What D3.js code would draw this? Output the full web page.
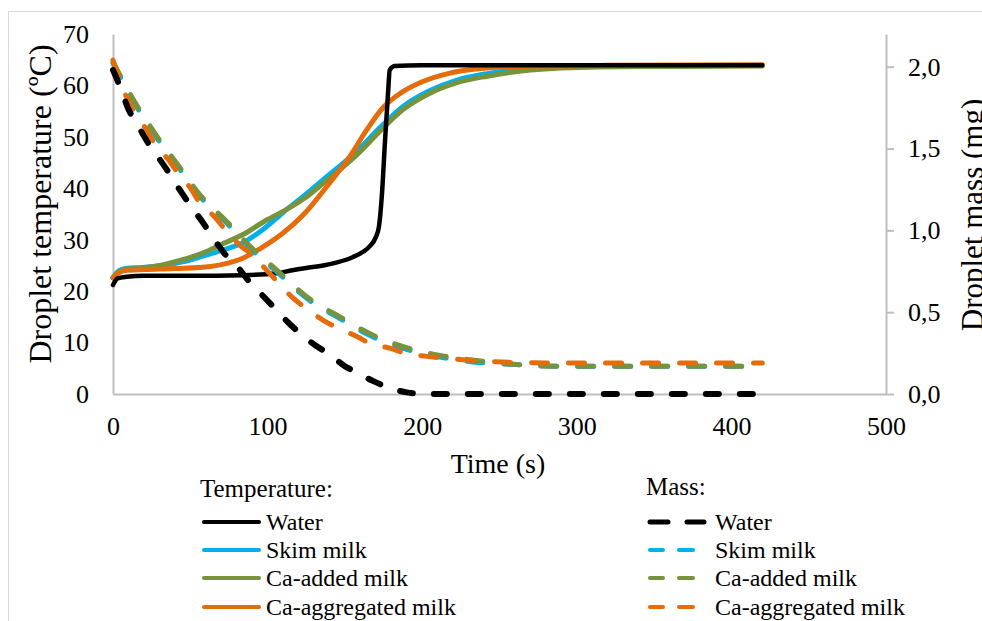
<!DOCTYPE html>
<html>
<head>
    <meta charset="utf-8">
    <title>Droplet temperature and mass</title>
    <script src="https://d3js.org/d3.v7.min.js"></script>
    <style>
        body { margin: 0; background: #fff; }
        svg { display: block; font-family: "Liberation Serif", "Times New Roman", serif; }
    </style>
</head>
<body>
    <div id="chart"></div>

    <script>
        // series names and colours
        var names = ["Water", "Skim milk", "Ca-added milk", "Ca-aggregated milk"];
        var colors = ["#000000", "#00b0f0", "#77933c", "#e46c0a"];

        // temperature (left axis, °C) - time (s) / value pairs
        var tWaterTemp = [0, 3, 9, 20, 50, 84, 106, 115, 125, 136, 145, 155, 162, 166, 170, 172, 174, 176, 178, 179, 182, 200, 300, 420];
        var waterTemp  = [21.2, 22.5, 22.8, 23.0, 23.0, 23.1, 23.5, 24.0, 24.5, 25.0, 25.6, 26.6, 27.7, 28.7, 30.5, 32.5, 39, 49.5, 59, 63, 63.8, 63.9, 63.9, 63.9];

        var tSkimTemp = [0, 4, 8, 19, 32, 45, 58, 71, 84, 97, 110, 125, 136, 158, 173, 188, 205, 222, 242, 270, 313, 360, 420];
        var skimTemp  = [22.6, 24.0, 24.4, 24.6, 25.0, 25.7, 26.8, 28.0, 29.4, 32.0, 35.3, 38.9, 41.7, 47.3, 51.9, 56.0, 59.0, 61.0, 62.3, 63.3, 63.7, 63.8, 63.9];

        var tAddedTemp = [0, 4, 8, 19, 32, 45, 58, 71, 84, 97, 110, 125, 136, 158, 173, 188, 205, 222, 242, 270, 313, 360, 420];
        var addedTemp  = [22.6, 23.8, 24.2, 24.5, 25.1, 26.1, 27.4, 29.2, 31.0, 33.4, 35.5, 38.3, 41.0, 46.6, 51.2, 55.4, 58.5, 60.5, 61.8, 63.0, 63.6, 63.7, 63.8];

        var tAggrTemp = [0, 4, 8, 20, 41, 63, 75, 84, 97, 110, 123, 140, 153, 164, 175, 186, 200, 218, 235, 260, 320, 420];
        var aggrTemp  = [22.6, 23.6, 24.0, 24.2, 24.4, 24.8, 25.5, 26.4, 28.6, 31.3, 34.8, 41.0, 46.1, 51.3, 55.8, 58.5, 60.7, 62.4, 63.2, 63.7, 63.9, 64.0];

        // mass (right axis, mg)
        var tWaterMass = [0, 4.5, 10, 15.5, 23, 29, 37, 43, 51, 58, 65, 72, 82, 87, 96, 105, 113, 121, 132, 139, 150, 158, 168, 178, 190, 200, 300, 420];
        var waterMass  = [1.98, 1.88, 1.74, 1.65, 1.53, 1.45, 1.34, 1.25, 1.14, 1.05, 0.95, 0.86, 0.76, 0.70, 0.61, 0.52, 0.44, 0.37, 0.29, 0.25, 0.17, 0.13, 0.08, 0.04, 0.01, 0.0, 0.0, 0.0];

        var tSkimMass = [0, 15, 28, 42, 56, 74, 90, 108, 126, 147, 168, 191, 215, 240, 261, 287, 320, 420];
        var skimMass  = [2.02, 1.76, 1.57, 1.39, 1.21, 1.04, 0.88, 0.73, 0.58, 0.46, 0.35, 0.27, 0.22, 0.19, 0.18, 0.17, 0.17, 0.17];

        var tAddedMass = [0, 15, 28, 42, 56, 74, 90, 108, 126, 147, 168, 191, 215, 240, 261, 287, 320, 420];
        var addedMass  = [2.03, 1.77, 1.58, 1.40, 1.22, 1.05, 0.89, 0.74, 0.59, 0.47, 0.36, 0.28, 0.23, 0.20, 0.18, 0.17, 0.17, 0.17];

        var tAggrMass = [0, 9, 14, 22, 27, 36, 42, 50, 56, 66, 73, 82, 90, 100, 106, 116, 124, 136, 144, 158, 166, 179, 189, 203, 213, 226, 240, 280, 420];
        var aggrMass  = [2.04, 1.81, 1.72, 1.61, 1.53, 1.43, 1.35, 1.26, 1.17, 1.08, 1.00, 0.91, 0.85, 0.75, 0.69, 0.59, 0.53, 0.45, 0.41, 0.35, 0.31, 0.28, 0.25, 0.23, 0.22, 0.21, 0.20, 0.19, 0.19];

        // tick labels
        var xTicks = [0, 100, 200, 300, 400, 500];
        var tempTicks = [0, 10, 20, 30, 40, 50, 60, 70];
        var massTicks = [0, 0.5, 1.0, 1.5, 2.0];

        var width = 982, height = 621;

        var svg = d3.select("#chart").append("svg")
            .attr("width", width)
            .attr("height", height);

        // chart frame
        svg.append("rect")
            .attr("x", 8.5).attr("y", 11.5)
            .attr("width", 1000).attr("height", 700)
            .attr("fill", "none")
            .attr("stroke", "#d9d9d9");

        var x = d3.scaleLinear().domain([0, 500]).range([113, 886]);
        var yL = d3.scaleLinear().domain([0, 70]).range([394, 34]);
        var yR = d3.scaleLinear().domain([0, 2.2]).range([394, 34]);

        // axes
        var gx = svg.append("g").attr("transform", "translate(0,394)")
            .call(d3.axisBottom(x).tickValues(xTicks).tickSize(0).tickSizeOuter(0).tickPadding(23));
        var gl = svg.append("g").attr("transform", "translate(113,0)")
            .call(d3.axisLeft(yL).tickValues(tempTicks).tickSize(0).tickSizeOuter(0).tickPadding(24));
        var gr = svg.append("g").attr("transform", "translate(886,0)")
            .call(d3.axisRight(yR).tickValues(massTicks).tickSize(8).tickSizeOuter(0).tickPadding(14)
                .tickFormat(function(d) { return d3.format(".1f")(d).replace(".", ","); }));

        [gx, gl, gr].forEach(function(g) {
            g.attr("font-family", null);
            g.select(".domain").attr("stroke", "#bfbfbf").attr("stroke-width", 2);
            g.selectAll(".tick line").attr("stroke", "#bfbfbf").attr("stroke-width", 2);
            g.selectAll(".tick text")
                .attr("font-size", 26)
                .attr("fill", "#000");
        });

        // axis titles
        svg.append("text")
            .attr("transform", "translate(51,204) rotate(-90)")
            .attr("text-anchor", "middle")
            .attr("font-size", 32)
            .text("Droplet temperature (ºC)");
        svg.append("text")
            .attr("transform", "translate(983,215) rotate(-90)")
            .attr("text-anchor", "middle")
            .attr("font-size", 31)
            .text("Droplet mass (mg)");
        svg.append("text")
            .attr("x", 498).attr("y", 473)
            .attr("text-anchor", "middle")
            .attr("font-size", 28)
            .text("Time (s)");

        function pairs(ts, vs) {
            return ts.map(function(t, i) { return [t, vs[i]]; });
        }

        var tempSeries = [pairs(tWaterTemp, waterTemp), pairs(tSkimTemp, skimTemp),
                          pairs(tAddedTemp, addedTemp), pairs(tAggrTemp, aggrTemp)];
        var massSeries = [pairs(tWaterMass, waterMass), pairs(tSkimMass, skimMass),
                          pairs(tAddedMass, addedMass), pairs(tAggrMass, aggrMass)];

        var lineL = d3.line().x(function(d) { return x(d[0]); }).y(function(d) { return yL(d[1]); })
            .curve(d3.curveMonotoneX);
        var lineR = d3.line().x(function(d) { return x(d[0]); }).y(function(d) { return yR(d[1]); })
            .curve(d3.curveMonotoneX);

        // draw order: skim, added, aggregated, water (water on top)
        var order = [1, 2, 3, 0];

        order.forEach(function(i) {
            svg.append("path")
                .datum(tempSeries[i])
                .attr("d", lineL)
                .attr("fill", "none")
                .attr("stroke", colors[i])
                .attr("stroke-width", i === 0 ? 4.5 : 5)
                .attr("stroke-linejoin", "round")
                .attr("stroke-linecap", "round");
        });

        order.forEach(function(i) {
            svg.append("path")
                .datum(massSeries[i])
                .attr("d", lineR)
                .attr("fill", "none")
                .attr("stroke", colors[i])
                .attr("stroke-width", i === 0 ? 6 : 5)
                .attr("stroke-dasharray", i === 0 ? "13,21" : "16,21")
                .attr("stroke-linecap", "round");
        });

        // legends
        svg.append("text").attr("x", 200).attr("y", 497).attr("font-size", 25).text("Temperature:");
        svg.append("text").attr("x", 646).attr("y", 495).attr("font-size", 25).text("Mass:");

        var rowY = [522, 550, 578, 607];

        names.forEach(function(n, i) {
            svg.append("line")
                .attr("x1", 204).attr("x2", 259)
                .attr("y1", rowY[i]).attr("y2", rowY[i])
                .attr("stroke", colors[i]).attr("stroke-width", 4)
                .attr("stroke-linecap", "round");
            svg.append("text")
                .attr("x", 266).attr("y", rowY[i]).attr("dy", "0.35em")
                .attr("font-size", 24)
                .text(n);

            var dashes = i === 0 ? [[650, 668], [687, 704]] : [[650, 663], [679, 693]];
            dashes.forEach(function(s) {
                svg.append("line")
                    .attr("x1", s[0]).attr("x2", s[1])
                    .attr("y1", rowY[i]).attr("y2", rowY[i])
                    .attr("stroke", colors[i]).attr("stroke-width", i === 0 ? 5 : 4)
                    .attr("stroke-linecap", "round");
            });
            svg.append("text")
                .attr("x", 715).attr("y", rowY[i]).attr("dy", "0.35em")
                .attr("font-size", 24)
                .text(n);
        });
    </script>
</body>
</html>
